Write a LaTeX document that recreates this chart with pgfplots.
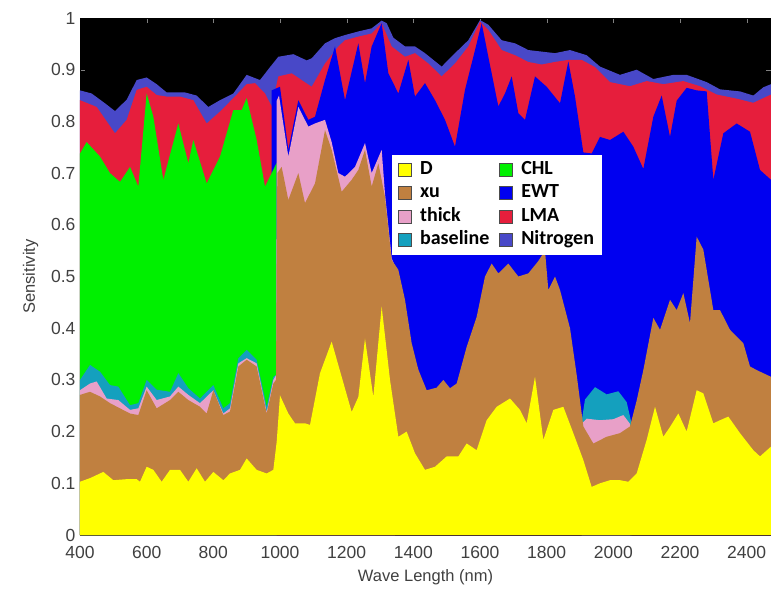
\documentclass[border=0pt]{standalone}
\usepackage{pgfplots}
\pgfplotsset{compat=1.18}
\usepackage{fontspec}
\setmainfont{Liberation Sans}
\newfontfamily\legfont{Carlito}
\definecolor{cD}{RGB}{255,255,0}
\definecolor{cXU}{RGB}{192,128,64}
\definecolor{cTH}{RGB}{232,160,200}
\definecolor{cBL}{RGB}{20,160,190}
\definecolor{cCHL}{RGB}{0,240,0}
\definecolor{cEWT}{RGB}{0,0,240}
\definecolor{cLMA}{RGB}{230,30,60}
\definecolor{cN}{RGB}{72,72,200}
\begin{document}
\begin{tikzpicture}
\begin{axis}[
  name=ax, at={(0,0)}, anchor=south west,
  scale only axis, width=691pt, height=517pt,
  xmin=400, xmax=2473, ymin=0, ymax=1,
  xtick={400,600,...,2400}, ytick={0,0.1,...,1.0},
  yticklabels={0,0.1,0.2,0.3,0.4,0.5,0.6,0.7,0.8,0.9,1},
  /pgf/number format/assume math mode=true,
  /pgf/number format/1000 sep={},
  tick align=inside, major tick length=5pt,
  axis background/.style={fill=black},
  tick label style={font=\fontsize{17.5}{20}\selectfont, color=black!75},
  xticklabel style={yshift=-8pt},
  yticklabel style={xshift=-1pt},
  label style={font=\fontsize{16.5}{19}\selectfont, color=black!75},
  xlabel={Wave Length (nm)}, ylabel={Sensitivity},
  xlabel style={yshift=-4pt}, ylabel style={yshift=6pt},
  legend columns=2,
  legend style={at={(0.4515,0.735)}, anchor=north west, fill=white, draw=none,
    font=\legfont\bfseries\fontsize{20}{24}\selectfont, inner xsep=6pt, inner ysep=4pt, row sep=2.5pt,
    nodes={text height=13pt, text depth=4pt},
    /tikz/every odd column/.append style={column sep=6pt},
    /tikz/every even column/.append style={column sep=8pt}},
  legend cell align=left,
  legend image code/.code={\draw[#1, draw=black!70, line width=0.9pt] (0pt,-6.5pt) rectangle (13pt,6.5pt);},
  every axis plot/.append style={draw=none},
]
% Nitrogen (cumulative top)
\addplot[fill=cN, forget plot] coordinates {
(400,0.860) (435,0.854) (475,0.835) (505,0.82) (540,0.842) (570,0.88) (600,0.885) (630,0.872) (660,0.856) (715,0.856) (750,0.850) (785,0.828) (820,0.841) (860,0.854) (900,0.89) (940,0.88) (970,0.905) (995,0.925) (1040,0.93) (1080,0.918) (1095,0.922) (1135,0.951) (1165,0.961) (1195,0.967) (1235,0.974) (1275,0.98) (1305,0.995) (1320,0.99) (1340,0.962) (1375,0.945) (1405,0.945) (1435,0.932) (1485,0.906) (1525,0.932) (1565,0.957) (1600,0.996) (1625,0.987) (1665,0.957) (1705,0.951) (1745,0.938) (1785,0.935) (1825,0.932) (1870,0.938) (1920,0.928) (1960,0.906) (2020,0.89) (2070,0.9) (2120,0.882) (2180,0.89) (2220,0.89) (2280,0.876) (2320,0.862) (2380,0.858) (2420,0.85) (2450,0.866) (2473,0.872)
} \closedcycle;
% LMA
\addplot[fill=cLMA, forget plot] coordinates {
(400,0.841) (450,0.828) (505,0.777) (540,0.803) (570,0.861) (600,0.867) (630,0.851) (660,0.848) (700,0.848) (740,0.841) (780,0.796) (820,0.819) (860,0.845) (900,0.872) (925,0.874) (955,0.854) (975,0.829) (995,0.887) (1035,0.893) (1065,0.88) (1095,0.867) (1135,0.912) (1175,0.945) (1195,0.957) (1235,0.964) (1275,0.97) (1305,0.99) (1335,0.945) (1375,0.925) (1405,0.932) (1445,0.912) (1485,0.887) (1525,0.912) (1565,0.945) (1600,0.993) (1625,0.977) (1665,0.938) (1705,0.928) (1745,0.915) (1785,0.91) (1825,0.915) (1865,0.919) (1905,0.919) (1945,0.905) (1990,0.876) (2050,0.868) (2100,0.878) (2150,0.872) (2210,0.878) (2260,0.868) (2310,0.852) (2370,0.844) (2420,0.836) (2473,0.852)
} \closedcycle;
% EWT
\addplot[fill=cEWT, forget plot] coordinates {
(975,0.86) (1000,0.867) (1025,0.745) (1055,0.841) (1085,0.803) (1105,0.809) (1135,0.88) (1165,0.945) (1195,0.841) (1235,0.951) (1255,0.874) (1275,0.945) (1305,0.99) (1325,0.893) (1355,0.854) (1385,0.919) (1405,0.848) (1435,0.874) (1465,0.841) (1495,0.803) (1525,0.751) (1555,0.861) (1585,0.938) (1605,0.99) (1625,0.925) (1655,0.829) (1675,0.854) (1695,0.887) (1715,0.816) (1735,0.803) (1765,0.887) (1800,0.867) (1840,0.835) (1865,0.916) (1885,0.848) (1910,0.74) (1935,0.738) (1960,0.77) (1990,0.764) (2030,0.78) (2060,0.751) (2090,0.708) (2120,0.809) (2145,0.85) (2170,0.77) (2190,0.84) (2220,0.865) (2250,0.86) (2280,0.858) (2300,0.687) (2330,0.777) (2370,0.796) (2410,0.78) (2440,0.706) (2473,0.687)
} \closedcycle;
% CHL
\addplot[fill=cCHL, forget plot] coordinates {
(400,0.738) (420,0.76) (460,0.732) (490,0.70) (520,0.683) (550,0.712) (575,0.674) (600,0.854) (620,0.809) (650,0.687) (695,0.796) (725,0.719) (740,0.764) (780,0.68) (820,0.732) (860,0.822) (885,0.822) (900,0.845) (930,0.764) (955,0.674) (975,0.70) (990,0.72)
} \closedcycle;
% baseline
\addplot[fill=cBL, forget plot] coordinates {
(400,0.30) (430,0.329) (460,0.316) (490,0.29) (515,0.287) (550,0.251) (575,0.255) (600,0.30) (630,0.281) (670,0.277) (695,0.313) (725,0.284) (760,0.264) (800,0.29) (830,0.245) (850,0.255) (875,0.342) (900,0.358) (930,0.339) (960,0.248) (980,0.306) (990,0.31)
} \closedcycle;
\addplot[fill=cBL, forget plot] coordinates {
(1905,0.22) (1915,0.262) (1945,0.286) (1980,0.272) (2015,0.278) (2040,0.257) (2055,0.215)
} \closedcycle;
% thick
\addplot[fill=cTH, forget plot] coordinates {
(400,0.28) (430,0.293) (450,0.297) (480,0.264) (515,0.261) (550,0.242) (575,0.245) (600,0.287) (630,0.261) (670,0.268) (695,0.287) (725,0.271) (760,0.255) (800,0.28) (830,0.235) (850,0.245) (875,0.332) (900,0.342) (930,0.332) (960,0.238) (980,0.30) (989,0.31) (990,0.84) (997,0.85) (1025,0.732) (1055,0.828) (1085,0.79) (1105,0.796) (1135,0.803) (1155,0.76) (1175,0.70) (1195,0.693) (1225,0.712) (1255,0.758) (1275,0.70) (1305,0.745) (1315,0.66) (1335,0.535) (1345,0.52)
} \closedcycle;
\addplot[fill=cTH, forget plot] coordinates {
(1905,0.215) (1920,0.225) (1960,0.222) (2000,0.224) (2030,0.232) (2050,0.215)
} \closedcycle;
% xu
\addplot[fill=cXU, forget plot] coordinates {
(400,0.271) (430,0.277) (460,0.268) (490,0.255) (550,0.235) (575,0.232) (600,0.28) (630,0.245) (670,0.261) (695,0.277) (725,0.261) (760,0.248) (780,0.235) (800,0.28) (830,0.232) (850,0.239) (875,0.326) (900,0.339) (930,0.326) (960,0.235) (980,0.293) (988,0.30) (992,0.70) (1005,0.712) (1025,0.648) (1055,0.70) (1075,0.642) (1105,0.68) (1135,0.783) (1155,0.745) (1185,0.664) (1215,0.687) (1235,0.706) (1255,0.745) (1275,0.674) (1295,0.719) (1315,0.654) (1335,0.532) (1355,0.513) (1375,0.455) (1395,0.371) (1415,0.32) (1440,0.28) (1470,0.285) (1490,0.30) (1510,0.284) (1530,0.293) (1560,0.364) (1590,0.422) (1615,0.50) (1635,0.525) (1655,0.506) (1685,0.525) (1715,0.50) (1745,0.506) (1775,0.53) (1795,0.55) (1805,0.474) (1825,0.50) (1840,0.474) (1870,0.40) (1890,0.31) (1910,0.21) (1940,0.177) (1980,0.19) (2020,0.197) (2050,0.21) (2070,0.26) (2090,0.319) (2120,0.42) (2140,0.397) (2170,0.455) (2190,0.435) (2210,0.468) (2230,0.41) (2250,0.577) (2270,0.552) (2300,0.435) (2320,0.435) (2350,0.397) (2390,0.371) (2410,0.326) (2430,0.319) (2473,0.306)
} \closedcycle;
% D
\addplot[fill=cD, forget plot] coordinates {
(400,0.103) (430,0.11) (470,0.122) (500,0.106) (540,0.108) (570,0.108) (580,0.103) (600,0.132) (620,0.126) (645,0.103) (670,0.126) (700,0.126) (725,0.103) (750,0.129) (775,0.103) (800,0.122) (830,0.106) (850,0.119) (880,0.126) (900,0.148) (930,0.126) (960,0.119) (980,0.126) (990,0.18) (1000,0.27) (1025,0.235) (1045,0.216) (1075,0.216) (1090,0.213) (1120,0.313) (1155,0.374) (1185,0.306) (1215,0.238) (1235,0.267) (1255,0.38) (1280,0.267) (1305,0.442) (1330,0.30) (1355,0.19) (1380,0.20) (1405,0.158) (1435,0.126) (1465,0.132) (1500,0.152) (1535,0.152) (1560,0.177) (1590,0.164) (1620,0.222) (1650,0.248) (1690,0.264) (1720,0.242) (1740,0.216) (1765,0.306) (1790,0.184) (1820,0.242) (1850,0.248) (1880,0.197) (1910,0.145) (1935,0.093) (1960,0.10) (1990,0.106) (2020,0.106) (2045,0.103) (2070,0.119) (2100,0.184) (2125,0.248) (2150,0.19) (2170,0.209) (2195,0.235) (2220,0.20) (2250,0.28) (2270,0.274) (2300,0.216) (2320,0.222) (2345,0.229) (2380,0.197) (2420,0.164) (2440,0.152) (2473,0.171)
} \closedcycle;
\addlegendimage{fill=cD}\addlegendentry{D}
\addlegendimage{fill=cCHL}\addlegendentry{CHL}
\addlegendimage{fill=cXU}\addlegendentry{xu}
\addlegendimage{fill=cEWT}\addlegendentry{EWT}
\addlegendimage{fill=cTH}\addlegendentry{thick}
\addlegendimage{fill=cLMA}\addlegendentry{LMA}
\addlegendimage{fill=cBL}\addlegendentry{baseline}
\addlegendimage{fill=cN}\addlegendentry{Nitrogen}
\end{axis}
\pgfresetboundingbox
\path[use as bounding box] (-80pt,-60pt) rectangle (691pt,535pt);
\end{tikzpicture}
\end{document}
